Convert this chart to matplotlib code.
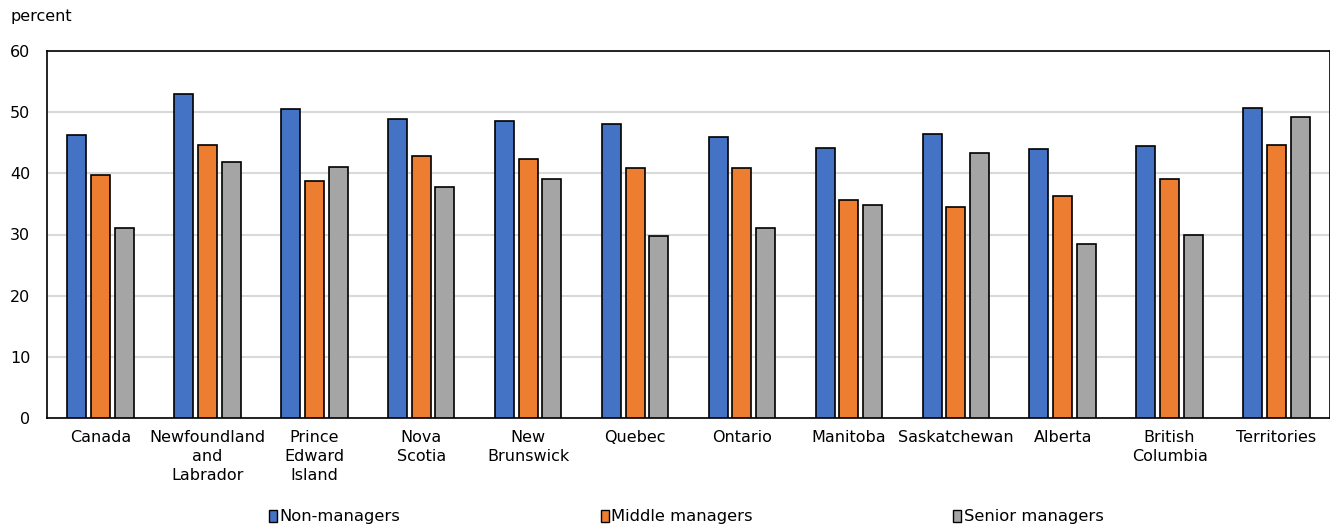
import matplotlib
matplotlib.use("Agg")
import matplotlib.pyplot as plt
import numpy as np
from matplotlib.patches import Patch

categories = ["Canada", "Newfoundland\nand\nLabrador", "Prince\nEdward\nIsland",
              "Nova\nScotia", "New\nBrunswick", "Quebec", "Ontario", "Manitoba",
              "Saskatchewan", "Alberta", "British\nColumbia", "Territories"]
non_managers = [46.2, 53.0, 50.5, 48.9, 48.5, 48.1, 45.9, 44.2, 46.4, 44.0, 44.5, 50.6]
middle_managers = [39.8, 44.7, 38.8, 42.8, 42.3, 40.8, 40.9, 35.7, 34.5, 36.3, 39.1, 44.6]
senior_managers = [31.1, 41.8, 41.0, 37.8, 39.0, 29.7, 31.0, 34.9, 43.3, 28.4, 30.0, 49.2]
series_names = ["Non-managers", "Middle managers", "Senior managers"]
colors = ["#4472c4", "#ed7d31", "#a5a5a5"]
y_ticks = [0, 10, 20, 30, 40, 50, 60]

plt.rcParams["font.family"] = ["DejaVu Sans"]
fs = 11.5

fig = plt.figure(figsize=(13.3, 5.29), dpi=100)
ax = fig.add_axes([47 / 1330, 1 - 418 / 529, (1330 - 47) / 1330, 367 / 529])

x = np.arange(len(categories))
width = 0.178
step = 0.222
for i, (vals, col) in enumerate(zip([non_managers, middle_managers, senior_managers], colors)):
    ax.bar(x + (i - 1) * step, vals, width, color=col, edgecolor="black",
           linewidth=1.2, zorder=3)

ax.set_xlim(-0.5, len(categories) - 0.5)
ax.set_ylim(0, 60)
ax.set_yticks(y_ticks)
ax.set_yticklabels([str(t) for t in y_ticks], fontsize=fs)
ax.set_xticks(x)
ax.set_xticklabels(categories, fontsize=fs, linespacing=1.32)
ax.tick_params(axis="both", length=0, colors="black")
ax.tick_params(axis="x", pad=9)
ax.tick_params(axis="y", pad=12)
ax.yaxis.grid(True, color="#d9d9d9", linewidth=1.5, zorder=0)
ax.set_axisbelow(True)
for s in ax.spines.values():
    s.set_color("black")
    s.set_linewidth(1.2)

fig.text(10 / 1330, 1 - 16 / 529, "percent", fontsize=fs, va="center", ha="left")

handles = [Patch(facecolor=c, edgecolor="black", linewidth=1.0) for c in colors]
fig.legend(handles, series_names, loc="center", bbox_to_anchor=(0.516, 1 - 517 / 529),
           ncol=3, frameon=False, fontsize=11.8, handlelength=0.5, handleheight=0.7,
           handletextpad=0.15, columnspacing=12.2, borderaxespad=0)

fig.savefig("out.png", dpi=100)
